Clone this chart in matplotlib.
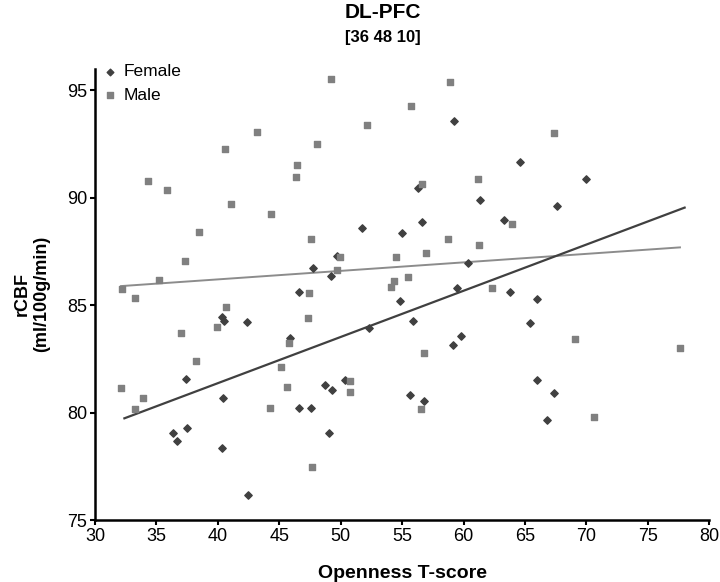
import numpy as np
import matplotlib
matplotlib.use("Agg")
import matplotlib.pyplot as plt

plt.rcParams['font.family'] = ['Liberation Sans', 'DejaVu Sans']

# Female (diamonds)
female_x = [59.26, 56.26, 61.32, 51.72, 55.02, 56.62, 49.72, 64.61, 69.97, 67.62,
            63.29, 47.75, 46.64, 40.37, 40.50, 42.39, 45.91, 37.42, 40.42, 46.59,
            47.62, 36.37, 37.50, 36.69, 40.37, 42.47, 49.21, 60.37, 59.48, 54.86,
            55.89, 52.32, 59.83, 59.18, 50.32, 48.69, 49.32, 55.67, 56.78, 49.02,
            63.80, 65.99, 65.40, 65.99, 67.40, 66.76]
female_y = [93.57, 90.46, 89.87, 88.57, 88.36, 88.86, 87.28, 91.64, 90.87, 89.62,
            88.94, 86.72, 85.59, 84.46, 84.27, 84.20, 83.48, 81.56, 80.67, 80.21,
            80.21, 79.06, 79.28, 78.69, 78.35, 76.16, 86.35, 86.97, 85.80, 85.20,
            84.24, 83.94, 83.56, 83.14, 81.51, 81.27, 81.05, 80.80, 80.53, 79.06,
            85.59, 85.28, 84.16, 81.50, 80.91, 79.65]

# Male (squares)
male_x = [43.20, 48.07, 40.58, 46.45, 46.37, 34.34, 35.88, 41.09, 44.31, 38.50,
          47.62, 37.34, 49.21, 58.89, 55.73, 52.16, 56.62, 61.18, 58.75, 61.24,
          49.97, 54.48, 56.91, 67.35, 63.94, 35.23, 32.21, 33.28, 47.40, 40.64,
          39.96, 47.32, 36.99, 45.77, 45.18, 38.23, 32.12, 45.64, 33.88, 33.28,
          44.23, 47.66, 49.69, 54.35, 55.45, 54.13, 62.34, 56.78, 50.78, 50.78,
          56.56, 69.11, 77.59, 70.65]
male_y = [93.03, 92.49, 92.27, 91.51, 90.97, 90.75, 90.35, 89.70, 89.25, 88.40,
          88.07, 87.06, 95.51, 95.39, 94.26, 93.37, 90.63, 90.85, 88.07, 87.78,
          87.23, 87.23, 87.40, 92.99, 88.78, 86.16, 85.73, 85.34, 85.54, 84.91,
          83.99, 84.41, 83.70, 83.22, 82.10, 82.40, 81.14, 81.17, 80.67, 80.16,
          80.21, 77.47, 86.64, 86.13, 86.30, 85.84, 85.79, 82.77, 81.47, 80.95,
          80.16, 83.43, 83.01, 79.78]

# trend lines (end points)
trend_dark_x = [32.39, 78.0]
trend_dark_y = [79.73, 89.53]
trend_gray_x = [32.12, 77.62]
trend_gray_y = [85.88, 87.68]

x_ticks = [30, 35, 40, 45, 50, 55, 60, 65, 70, 75, 80]
y_ticks = [75, 80, 85, 90, 95]

fig = plt.figure(figsize=(7.2, 5.82), dpi=100)
ax = fig.add_axes([0.132, 0.1065, 0.853, 0.7758])

ax.plot(trend_gray_x, trend_gray_y, color='#8c8c8c', lw=1.4, zorder=2)
ax.plot(trend_dark_x, trend_dark_y, color='#404040', lw=1.6, zorder=2)
ax.scatter(female_x, female_y, marker='D', s=14, color='#404040', label='Female', zorder=3)
ax.scatter(male_x, male_y, marker='s', s=22, color='#808080', label='Male', zorder=3)

ax.set_xlim(30, 80)
ax.set_ylim(75, 96)
ax.set_xticks(x_ticks)
ax.set_yticks(y_ticks)
ax.tick_params(labelsize=13, width=1.5, length=3.5, pad=2, direction='out')
for s in ['top', 'right']:
    ax.spines[s].set_visible(False)
for s in ['left', 'bottom']:
    ax.spines[s].set_linewidth(1.8)

ax.set_xlabel('Openness T-score', fontsize=14, fontweight='bold', labelpad=15)
ax.set_ylabel('rCBF\n(ml/100g/min)', fontsize=13, fontweight='bold', labelpad=12)

fig.text(0.532, 0.979, 'DL-PFC', ha='center', va='center', fontsize=15, fontweight='bold')
fig.text(0.532, 0.935, '[36 48 10]', ha='center', va='center', fontsize=12, fontweight='bold')

ax.legend(loc='upper left', bbox_to_anchor=(0.1458, 0.890), bbox_transform=fig.transFigure,
          frameon=False, fontsize=12.5, handlelength=0.6, handletextpad=0.5,
          labelspacing=0.5, borderpad=0, borderaxespad=0, markerscale=0.9)

fig.savefig('out.png', dpi=100)
